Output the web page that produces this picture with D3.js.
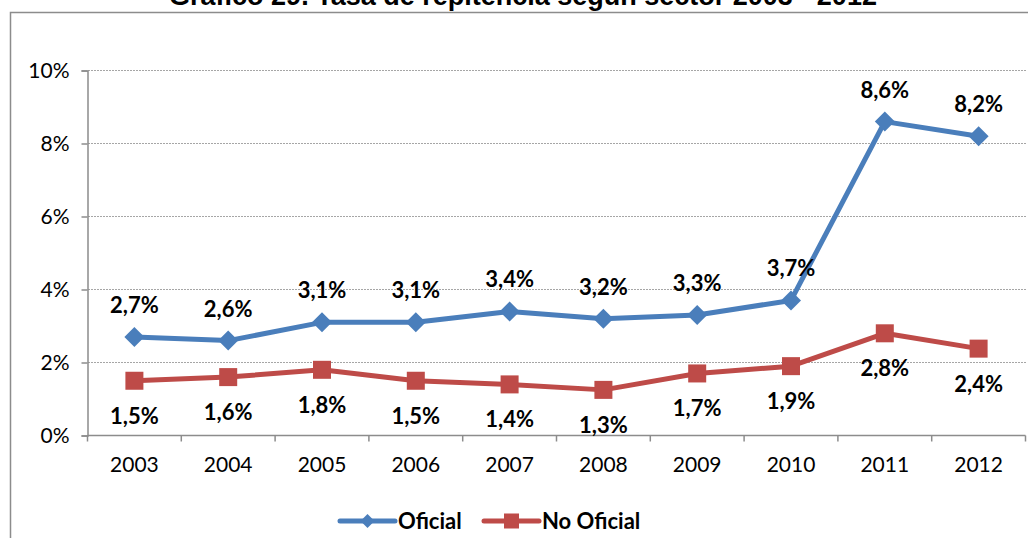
<!DOCTYPE html>
<html>
<head>
<meta charset="utf-8">
<script src="https://cdnjs.cloudflare.com/ajax/libs/d3/7.8.5/d3.min.js"></script>
<style>
  body { margin: 0; background: #fff; }
  svg { display: block; }
  .tick text { font-family: "Lato", "Noto Sans", sans-serif; font-size: 21px; fill: #000; }
  .lbl { font-family: "Lato", "Noto Sans", sans-serif; font-size: 22px; font-weight: bold; fill: #000; }
</style>
</head>
<body>
<svg width="1028" height="538"></svg>
<script>
// data
var years = ["2003", "2004", "2005", "2006", "2007", "2008", "2009", "2010", "2011", "2012"];
var oficial = [2.7, 2.6, 3.1, 3.1, 3.4, 3.2, 3.3, 3.7, 8.6, 8.2];
var noOficial = [1.5, 1.6, 1.8, 1.5, 1.4, 1.25, 1.7, 1.9, 2.8, 2.38];
var yTicks = [0, 2, 4, 6, 8, 10];
var seriesNames = ["Oficial", "No Oficial"];

var svg = d3.select("svg"),
    width = +svg.attr("width"),
    height = +svg.attr("height");

var blue = "#4a7ebb", red = "#be4b48";

// outer frame + title (title is cut by the top edge, as in the source)
svg.append("rect")
  .attr("x", 10.5).attr("y", 12.5)
  .attr("width", 1030).attr("height", 540)
  .attr("fill", "none").attr("stroke", "#8c8c8c").attr("stroke-width", 1.5);

svg.append("text")
  .attr("x", 523).attr("y", 5)
  .attr("text-anchor", "middle")
  .style("font-family", "Liberation Sans, Arial, sans-serif")
  .style("font-size", "27px").style("font-weight", "bold")
  .text("Gráfico 29. Tasa de repitencia según sector 2003 - 2012");

var x = d3.scaleBand().domain(years).range([87.5, 1025.5]);
var y = d3.scaleLinear().domain([0, 10]).range([435.5, 70.5]);

// grid
svg.append("g").selectAll("line")
  .data(yTicks.slice(1)).enter()
  .append("line")
  .attr("x1", 88).attr("x2", 1026)
  .attr("y1", function(d) { return y(d); })
  .attr("y2", function(d) { return y(d); })
  .attr("stroke", "#a6a6a6").attr("stroke-width", 1)
  .attr("stroke-dasharray", "2,1");

// y axis
var yAxis = svg.append("g")
  .attr("transform", "translate(87.5,0)")
  .call(d3.axisLeft(y).tickValues(yTicks).tickSize(6).tickPadding(12)
    .tickFormat(function(d) { return d + "%"; }));
yAxis.select(".domain").attr("stroke", "#8c8c8c").attr("stroke-width", 1.5);
yAxis.selectAll(".tick line").attr("stroke", "#8c8c8c").attr("stroke-width", 1.5);

// x axis
var xAxis = svg.append("g").attr("transform", "translate(0,435.5)");
xAxis.append("line")
  .attr("x1", 87.5).attr("x2", 1025.5)
  .attr("stroke", "#8c8c8c").attr("stroke-width", 1.5);
xAxis.selectAll(".xt").data(years.concat(["end"])).enter()
  .append("line")
  .attr("x1", function(d, i) { return 87.5 + i * x.step(); })
  .attr("x2", function(d, i) { return 87.5 + i * x.step(); })
  .attr("y1", 0).attr("y2", 6)
  .attr("stroke", "#8c8c8c").attr("stroke-width", 1.5);
xAxis.selectAll(".tick").data(years).enter()
  .append("g").attr("class", "tick")
  .append("text")
  .attr("x", function(d) { return x(d) + x.bandwidth() / 2; })
  .attr("y", 36)
  .attr("text-anchor", "middle")
  .text(function(d) { return d; });

var cx = function(d, i) { return x(years[i]) + x.bandwidth() / 2; };
var fmt = function(v) { return d3.format(".1f")(v).replace(".", ",") + "%"; };

var line = d3.line()
  .x(function(d, i) { return cx(d, i); })
  .y(function(d) { return y(d); });

// No Oficial series
svg.append("path").datum(noOficial)
  .attr("d", line).attr("fill", "none")
  .attr("stroke", red).attr("stroke-width", 5).attr("stroke-linejoin", "round");
svg.append("g").selectAll("rect").data(noOficial).enter()
  .append("rect")
  .attr("x", function(d, i) { return cx(d, i) - 9; })
  .attr("y", function(d) { return y(d) - 9; })
  .attr("width", 18).attr("height", 18)
  .attr("fill", red);
svg.append("g").selectAll("text").data(noOficial).enter()
  .append("text").attr("class", "lbl")
  .attr("x", function(d, i) { return cx(d, i); })
  .attr("y", function(d) { return y(d) + 43; })
  .attr("text-anchor", "middle")
  .text(fmt);

// Oficial series
svg.append("path").datum(oficial)
  .attr("d", line).attr("fill", "none")
  .attr("stroke", blue).attr("stroke-width", 5).attr("stroke-linejoin", "round");
svg.append("g").selectAll("path").data(oficial).enter()
  .append("path")
  .attr("d", "M0,-10L10,0L0,10L-10,0Z")
  .attr("transform", function(d, i) { return "translate(" + cx(d, i) + "," + y(d) + ")"; })
  .attr("fill", blue);
svg.append("g").selectAll("text").data(oficial).enter()
  .append("text").attr("class", "lbl")
  .attr("x", function(d, i) { return cx(d, i); })
  .attr("y", function(d) { return y(d) - 24; })
  .attr("text-anchor", "middle")
  .text(fmt);

// legend
var legend = svg.append("g").attr("transform", "translate(340,521)");
var colors = [blue, red];
var offs = [0, 144];
seriesNames.forEach(function(name, i) {
  var g = legend.append("g").attr("transform", "translate(" + offs[i] + ",0)");
  g.append("line").attr("x1", 0).attr("x2", 55)
    .attr("stroke", colors[i]).attr("stroke-width", 5).attr("stroke-linecap", "round");
  if (i === 0) {
    g.append("path").attr("d", "M0,-7L7,0L0,7L-7,0Z")
      .attr("transform", "translate(27.5,0)").attr("fill", colors[i]);
  } else {
    g.append("rect").attr("x", 20).attr("y", -7.5).attr("width", 15).attr("height", 15)
      .attr("fill", colors[i]);
  }
  g.append("text").attr("class", "lbl")
    .attr("x", 58).attr("y", 8)
    .text(name);
});
</script>
</body>
</html>
